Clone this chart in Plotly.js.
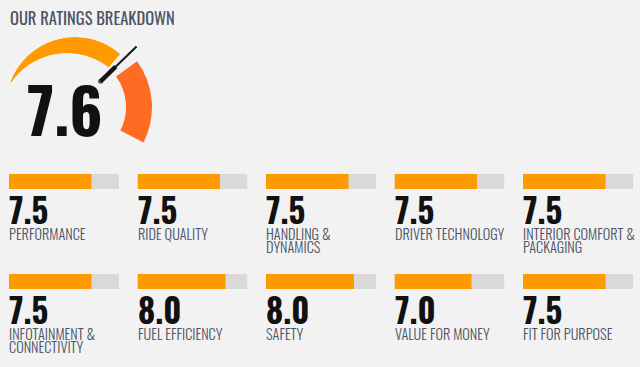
<!DOCTYPE html>
<html>
<head>
<meta charset="utf-8">
<script src="https://cdn.plot.ly/plotly-3.0.1.min.js"></script>
<style>
  html, body { margin: 0; padding: 0; background: #f2f2f2; }
  #chart { width: 640px; height: 367px; }
</style>
</head>
<body>
<div id="chart"></div>
<script>
// ---------------- DATA ----------------
const chartTitle = 'OUR RATINGS BREAKDOWN';
const overallScore = 7.6;
const scoreMax = 10;
const categories = [
  'PERFORMANCE', 'RIDE QUALITY', 'HANDLING &<br>DYNAMICS', 'DRIVER TECHNOLOGY', 'INTERIOR COMFORT &<br>PACKAGING',
  'INFOTAINMENT &<br>CONNECTIVITY', 'FUEL EFFICIENCY', 'SAFETY', 'VALUE FOR MONEY', 'FIT FOR PURPOSE'
];
const scores = [7.5, 7.5, 7.5, 7.5, 7.5, 7.5, 8.0, 8.0, 7.0, 7.5];

// ---------------- STYLE ----------------
const W = 640, H = 367;
const BG = '#f2f2f2';
const ORANGE = '#ff9a00';
const RED = '#ff6b22';
const TRACK = '#d9d9d9';
const LABEL = '#4b5263';
const FONT = 'Oswald, "Roboto Condensed", sans-serif';

const NCOLS = 5;
const colLeft = [9, 137.5, 266, 394.5, 523];
const colWidth = 110;
const rowCenter = [181.5, 281.5];   // px from top
const rowPitch = 100;                // px between rows
const labelLinePitch = 12.8;

// gauge geometry (layout-angle styles)
const G_START = 160;        // layout angle of gauge zero
const DEG_PER_POINT = 15.26;
const G_END_DEG = 187;      // end of red zone, gauge degrees
const ORANGE_GAP = 5, RED_GAP = 8;

function px2paperX(px) { return px / W; }
function px2paperY(py) { return 1 - py / H; }

function sectorBBox(s0, s1) {
  const mod = (v, n) => ((v % n) + n) % n;
  const d2r = Math.PI / 180;
  const a0 = mod(s0, 360), a1 = a0 + (s1 - s0);
  const ax0 = Math.cos(a0 * d2r), ay0 = Math.sin(a0 * d2r);
  const ax1 = Math.cos(a1 * d2r), ay1 = Math.sin(a1 * d2r);
  let x0, y0, x1, y1;
  if ((a0 <= 90 && a1 >= 90) || (a0 > 90 && a1 >= 450)) y1 = 1;
  else if (ay0 <= 0 && ay1 <= 0) y1 = 0; else y1 = Math.max(ay0, ay1);
  if ((a0 <= 180 && a1 >= 180) || (a0 > 180 && a1 >= 540)) x0 = -1;
  else if (ax0 >= 0 && ax1 >= 0) x0 = 0; else x0 = Math.min(ax0, ax1);
  if ((a0 <= 270 && a1 >= 270) || (a0 > 270 && a1 >= 630)) y0 = -1;
  else if (ay0 >= 0 && ay1 >= 0) y0 = 0; else y0 = Math.min(ay0, ay1);
  if ((a0 <= 0 && a1 >= 0) || (a0 > 0 && a1 >= 360)) x1 = 1;
  else if (ax0 <= 0 && ax1 <= 0) x1 = 0; else x1 = Math.max(ax0, ax1);
  return [x0, y0, x1, y1];
}
// polar domain so that center sits at (cx, cy) px with radius R px
function polarDomain(cx, cy, R, sector) {
  const b = sectorBBox(sector[0], sector[1]);
  return {
    x: [px2paperX(cx + b[0] * R), px2paperX(cx + b[2] * R)],
    y: [px2paperY(cy - b[1] * R), px2paperY(cy - b[3] * R)]
  };
}

const hiddenRadial = R => ({ visible: false, range: [0, R] });
const gaugeAngular = { visible: false, rotation: G_START, direction: 'clockwise' };

const needleDeg = overallScore * DEG_PER_POINT;
const orangeEnd = needleDeg - ORANGE_GAP;
const redStart = needleDeg + RED_GAP;

const traces = [];

// --- polar A: orange wedge (center 75,106; R 69)
traces.push({
  type: 'barpolar', subplot: 'polar',
  theta: [orangeEnd / 2], width: [orangeEnd], base: [0], r: [69],
  marker: { color: ORANGE, line: { width: 0 } }, hoverinfo: 'skip'
});
// --- polar B: background mask shaping the crescent (center 67,121; R 68)
traces.push({
  type: 'barpolar', subplot: 'polar2',
  theta: [80], width: [160], base: [0], r: [68],
  marker: { color: BG, line: { width: 0 } }, hoverinfo: 'skip'
});
// --- polar C: red zone + needle (center 74,107; R 90)
traces.push({
  type: 'barpolar', subplot: 'polar3',
  theta: [(redStart + G_END_DEG) / 2], width: [G_END_DEG - redStart], base: [52], r: [26],
  marker: { color: RED, line: { width: 0 } }, hoverinfo: 'skip'
});
traces.push({
  type: 'scatterpolar', subplot: 'polar3', mode: 'lines',
  r: [37, 87], theta: [needleDeg, needleDeg],
  line: { color: '#151515', width: 2 }, hoverinfo: 'skip'
});
traces.push({
  type: 'scatterpolar', subplot: 'polar3', mode: 'lines+markers',
  r: [37, 58], theta: [needleDeg, needleDeg],
  line: { color: '#151515', width: 4.5 },
  marker: { size: [5, 0], color: '#151515', line: { width: 0 } }, hoverinfo: 'skip'
});

// --- rating bars
const layout = {
  width: W, height: H,
  margin: { l: 0, r: 0, t: 0, b: 0 },
  paper_bgcolor: BG, plot_bgcolor: 'rgba(0,0,0,0)',
  showlegend: false, barmode: 'overlay',
  font: { family: FONT },
  annotations: []
};

const yTop = rowCenter[0] - rowPitch / 2;
const yBot = rowCenter[1] + rowPitch / 2;
layout.yaxis = {
  domain: [px2paperY(yBot), px2paperY(yTop)],
  range: [1.5, -0.5], visible: false, fixedrange: true
};

for (let c = 0; c < NCOLS; c++) {
  const axId = c === 0 ? '' : String(c + 1);
  layout['xaxis' + axId] = {
    domain: [px2paperX(colLeft[c]), px2paperX(colLeft[c] + colWidth)],
    range: [0, scoreMax], visible: false, fixedrange: true, anchor: 'y'
  };
  const idx = [], rows = [], vals = [];
  for (let i = c; i < scores.length; i += NCOLS) {
    idx.push(i); rows.push(Math.floor(i / NCOLS)); vals.push(scores[i]);
  }
  traces.push({
    type: 'bar', orientation: 'h', xaxis: 'x' + axId, yaxis: 'y',
    y: rows, x: rows.map(() => scoreMax), width: 0.15,
    marker: { color: TRACK, line: { width: 0 } }, hoverinfo: 'skip'
  });
  traces.push({
    type: 'bar', orientation: 'h', xaxis: 'x' + axId, yaxis: 'y',
    y: rows, x: vals, width: 0.15,
    marker: { color: ORANGE, line: { width: 0 } }, hoverinfo: 'skip'
  });
  idx.forEach((i, k) => {
    layout.annotations.push({
      xref: 'x' + axId, yref: 'y', x: 0, y: rows[k],
      xanchor: 'left', yanchor: 'top', xshift: -2, yshift: -1,
      text: scores[i].toFixed(1), showarrow: false,
      font: { family: FONT, size: 33, color: '#111111', weight: 700 }
    });
    categories[i].split('<br>').forEach((line, j) => {
      layout.annotations.push({
        xref: 'x' + axId, yref: 'y', x: 0, y: rows[k],
        xanchor: 'left', yanchor: 'top', xshift: -2, yshift: -39.5 - j * labelLinePitch,
        text: line, showarrow: false,
        font: { family: FONT, size: 14.3, color: LABEL, weight: 300 }
      });
    });
  });
}

// polar layouts
const dA = polarDomain(75, 106, 69, [0, 360]);
layout.polar = { domain: dA, sector: [0, 360], bgcolor: 'rgba(0,0,0,0)',
  radialaxis: hiddenRadial(69), angularaxis: gaugeAngular };
const dB = polarDomain(67, 121, 68, [0, 160]);
layout.polar2 = { domain: dB, sector: [0, 160], bgcolor: 'rgba(0,0,0,0)',
  radialaxis: hiddenRadial(68), angularaxis: { visible: false } };
const dC = polarDomain(74, 107, 90, [-35, 50]);
layout.polar3 = { domain: dC, sector: [-35, 50], bgcolor: 'rgba(0,0,0,0)',
  radialaxis: hiddenRadial(90), angularaxis: gaugeAngular };

// title & overall score
layout.annotations.push({
  xref: 'paper', yref: 'paper', x: px2paperX(7.5), y: px2paperY(2.8),
  xanchor: 'left', yanchor: 'top', text: chartTitle, showarrow: false,
  font: { family: FONT, size: 16.5, color: LABEL, weight: 400 }
});
layout.annotations.push({
  xref: 'paper', yref: 'paper', x: px2paperX(25), y: px2paperY(59.5),
  xanchor: 'left', yanchor: 'top', text: overallScore.toFixed(1), showarrow: false,
  font: { family: FONT, size: 62, color: '#111111', weight: 700 }
});

Plotly.newPlot('chart', traces, layout, { displayModeBar: false, staticPlot: true });
</script>
</body>
</html>
